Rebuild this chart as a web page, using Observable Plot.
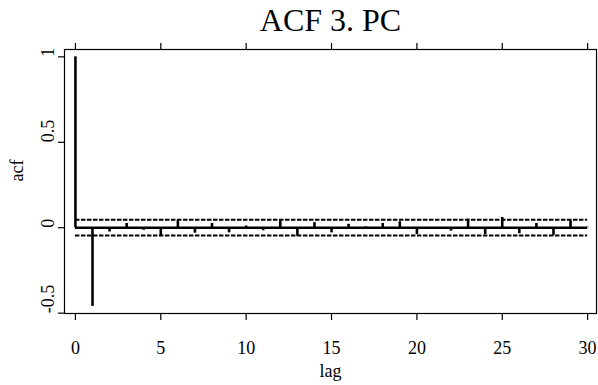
<!DOCTYPE html>
<html>
<head>
<meta charset="utf-8">
<script src="https://cdn.jsdelivr.net/npm/d3@7"></script>
<script src="https://cdn.jsdelivr.net/npm/@observablehq/plot@0.6"></script>
<style>
  html, body { margin: 0; padding: 0; background: white; }
  #chart { width: 598px; height: 385px; }
  #chart svg, #chart svg text { font-family: "Liberation Serif", "Times New Roman", serif !important; }
</style>
</head>
<body>
<div id="chart"></div>
<script>
const title = "ACF 3. PC";
const xLabel = "lag";
const yLabel = "acf";
const lags = [0,1,2,3,4,5,6,7,8,9,10,11,12,13,14,15,16,17,18,19,20,21,22,23,24,25,26,27,28,29,30];
const acfValues = [1, -0.46, -0.025, 0.025, -0.015, -0.048, 0.042, -0.032, 0.025, -0.03,
  0.01, -0.018, 0.04, -0.05, 0.03, -0.03, 0.02, 0.005, 0.025, 0.035,
  -0.04, -0.005, -0.02, 0.05, -0.04, 0.06, -0.035, 0.025, -0.045, 0.04, 0.003];
const ciBound = 0.046;
const xTicks = [0, 5, 10, 15, 20, 25, 30];
const xTickLabels = ["0", "5", "10", "15", "20", "25", "30"];
const yTicks = [-0.5, 0, 0.5, 1];
const yTickLabels = ["-0.5", "0", "0.5", "1"];

const data = lags.map((lag, i) => ({lag, acf: acfValues[i]}));
const lagMin = d3.min(lags), lagMax = d3.max(lags);
const font = "Liberation Serif";

const chart = Plot.plot({
  width: 598,
  height: 385,
  marginLeft: 64,
  marginRight: 2,
  marginTop: 49,
  marginBottom: 72,
  x: {domain: [-0.64, 30.52]},
  y: {domain: [-0.502, 1.043]},
  style: {fontFamily: font, background: "white", color: "black"},
  marks: [
    Plot.frame({stroke: "black", strokeWidth: 1.2}),
    Plot.ruleY([ciBound, -ciBound], {x1: lagMin, x2: lagMax, stroke: "black", strokeWidth: 2, strokeDasharray: "4.5,1.5"}),
    Plot.ruleY([0], {x1: lagMin, x2: lagMax, stroke: "black", strokeWidth: 2.5}),
    Plot.ruleX(data, {x: "lag", y1: 0, y2: "acf", stroke: "black", strokeWidth: 2.6}),
    Plot.axisX(xTicks, {anchor: "top", tickSize: 7, tickFormat: () => "", label: null, strokeWidth: 1.2}),
    Plot.axisX(xTicks, {anchor: "bottom", tickSize: 7, tickFormat: () => "", label: null, strokeWidth: 1.2}),
    Plot.axisY(yTicks, {anchor: "left", tickSize: 6, tickFormat: () => "", label: null, strokeWidth: 1.2}),
    Plot.text(xTicks, {x: d => d, text: (d, i) => xTickLabels[i], frameAnchor: "bottom", lineAnchor: "top", dy: 28, fontSize: 18, fontFamily: font, fill: "black"}),
    Plot.text(yTicks, {y: d => d, text: (d, i) => yTickLabels[i], frameAnchor: "left", dx: -16, rotate: -90, fontSize: 18, fontFamily: font, fill: "black"}),
    Plot.text([xLabel], {text: d => d, frameAnchor: "bottom", lineAnchor: "top", dy: 51, fontSize: 18, fontFamily: font, fill: "black"}),
    Plot.text([yLabel], {text: d => d, frameAnchor: "left", dx: -47, rotate: -90, fontSize: 18, fontFamily: font, fill: "black"}),
    Plot.text([title], {text: d => d, frameAnchor: "top", lineAnchor: "top", dy: -41, fontSize: 32, fontFamily: font, fill: "black"})
  ]
});
document.getElementById("chart").appendChild(chart);
</script>
</body>
</html>
